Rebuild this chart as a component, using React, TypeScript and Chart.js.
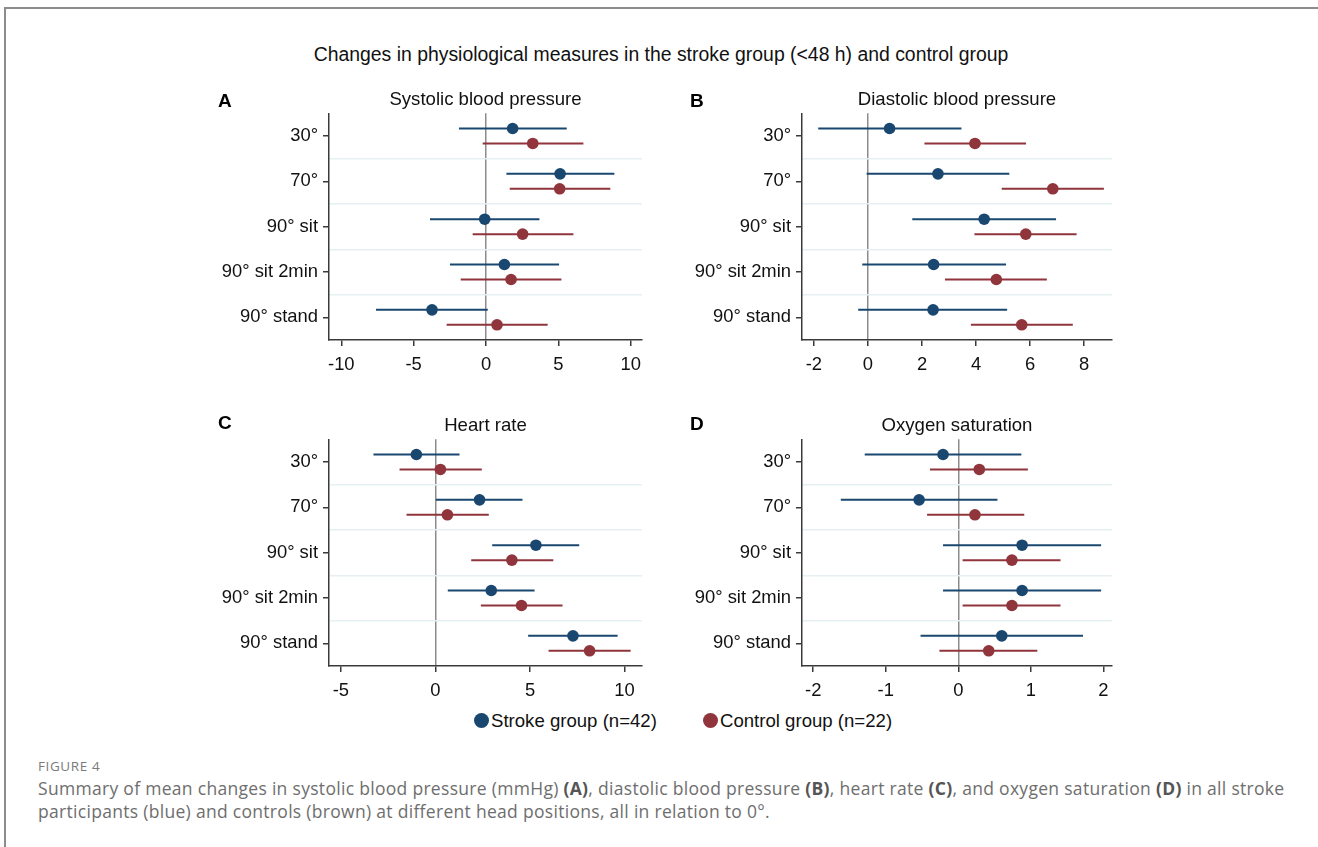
import React, { useEffect, useRef } from "react";
import { Chart, registerables } from "chart.js";

Chart.register(...registerables);

// ---------- data ----------
const categories = ["30°", "70°", "90° sit", "90° sit 2min", "90° stand"];

// Systolic blood pressure
const sbpStrokeMean = [1.84, 5.12, -0.09, 1.27, -3.73];
const sbpStrokeLo = [-1.87, 1.41, -3.87, -2.49, -7.6];
const sbpStrokeHi = [5.58, 8.87, 3.69, 5.05, 0.12];
const sbpControlMean = [3.23, 5.09, 2.53, 1.73, 0.76];
const sbpControlLo = [-0.23, 1.64, -0.92, -1.75, -2.72];
const sbpControlHi = [6.73, 8.59, 6.04, 5.21, 4.26];
const sbpTicks = [-10, -5, 0, 5, 10];

// Diastolic blood pressure
const dbpStrokeMean = [0.8, 2.59, 4.3, 2.43, 2.41];
const dbpStrokeLo = [-1.84, -0.05, 1.64, -0.21, -0.36];
const dbpStrokeHi = [3.46, 5.23, 6.96, 5.11, 5.15];
const dbpControlMean = [3.96, 6.84, 5.84, 4.75, 5.69];
const dbpControlLo = [2.09, 4.95, 3.94, 2.85, 3.81];
const dbpControlHi = [5.85, 8.73, 7.72, 6.62, 7.58];
const dbpTicks = [-2, 0, 2, 4, 6, 8];

// Heart rate
const hrStrokeMean = [-1.01, 2.33, 5.31, 2.95, 7.27];
const hrStrokeLo = [-3.28, 0.02, 3.0, 0.65, 4.9];
const hrStrokeHi = [1.27, 4.6, 7.6, 5.24, 9.63];
const hrControlMean = [0.26, 0.63, 4.04, 4.55, 8.15];
const hrControlLo = [-1.9, -1.53, 1.89, 2.4, 5.98];
const hrControlHi = [2.45, 2.82, 6.23, 6.72, 10.32];
const hrTicks = [-5, 0, 5, 10];

// Oxygen saturation
const spo2StrokeMean = [-0.21, -0.54, 0.88, 0.88, 0.6];
const spo2StrokeLo = [-1.29, -1.62, -0.21, -0.21, -0.52];
const spo2StrokeHi = [0.87, 0.54, 1.97, 1.97, 1.72];
const spo2ControlMean = [0.29, 0.23, 0.74, 0.74, 0.42];
const spo2ControlLo = [-0.39, -0.43, 0.06, 0.06, -0.26];
const spo2ControlHi = [0.96, 0.91, 1.41, 1.41, 1.09];
const spo2Ticks = [-2, -1, 0, 1, 2];

const rowTicks = [1, 1.5, 2, 2.5, 3, 3.5, 4, 4.5, 5];

// ---------- styles ----------
const FONT = '"Liberation Sans", Arial, Helvetica, sans-serif';
const CAPTION_FONT = '"Open Sans", "Noto Sans", sans-serif';
const BLUE = "#1a476f";
const RED = "#90353b";
const AXIS = "#3a3a3a";
const ZERO = "#8c8c8c";
const SEP = "#e6eff1";
const CLEAR = "rgba(0,0,0,0)";
const OFFSET = 0.165;

type Series = { mean: number[]; lo: number[]; hi: number[] };

type PanelProps = {
  title: string;
  ticks: number[];
  xMin: number;
  xMax: number;
  stroke: Series;
  control: Series;
  left: number;
  top: number;
  width: number;
};

const Y_WIDTH = 129;
const PAD_RIGHT = 18;
const CANVAS_H = 300;

function ciDatasets(s: Series, color: string, shift: number) {
  return s.mean.map((_, i) => ({
    type: "scatter" as const,
    label: "ci",
    data: [
      { x: s.lo[i], y: i + 1 + shift },
      { x: s.hi[i], y: i + 1 + shift },
    ],
    showLine: true,
    borderColor: color,
    borderWidth: 2,
    pointRadius: 0,
    pointHoverRadius: 0,
    fill: false,
  }));
}

function Panel(p: PanelProps) {
  const ref = useRef<HTMLCanvasElement | null>(null);
  useEffect(() => {
    if (!ref.current) return;
    const chart = new Chart(ref.current, {
      type: "scatter",
      data: {
        datasets: [
          {
            label: "Stroke group (n=42)",
            data: p.stroke.mean.map((m, i) => ({ x: m, y: i + 1 - OFFSET })),
            pointRadius: 5.8,
            pointBackgroundColor: BLUE,
            pointBorderWidth: 0,
            showLine: false,
          },
          {
            label: "Control group (n=22)",
            data: p.control.mean.map((m, i) => ({ x: m, y: i + 1 + OFFSET })),
            pointRadius: 5.8,
            pointBackgroundColor: RED,
            pointBorderWidth: 0,
            showLine: false,
          },
          ...ciDatasets(p.stroke, BLUE, -OFFSET),
          ...ciDatasets(p.control, RED, OFFSET),
        ] as any,
      },
      options: {
        animation: false,
        responsive: false,
        devicePixelRatio: 1,
        events: [],
        layout: { padding: { left: 0, right: PAD_RIGHT, top: 0, bottom: 0 } },
        plugins: {
          legend: { display: false },
          tooltip: { enabled: false },
          title: {
            display: true,
            text: p.title,
            fullSize: false,
            color: "#111",
            font: { family: FONT, size: 18.6, weight: "normal" as any },
            padding: { top: 9, bottom: 2 },
          },
        },
        scales: {
          x: {
            type: "linear",
            min: p.xMin,
            max: p.xMax,
            afterBuildTicks: (s: any) => {
              s.ticks = p.ticks.map((v) => ({ value: v }));
            },
            afterFit: (s: any) => {
              s.height = 40;
            },
            border: { display: true, color: AXIS, width: 1.5 },
            grid: {
              display: true,
              drawOnChartArea: true,
              drawTicks: true,
              tickLength: 6,
              color: (ctx: any) =>
                ctx.tick && ctx.tick.value === 0 ? ZERO : CLEAR,
              lineWidth: 1.5,
              tickColor: AXIS,
              tickWidth: 1.5,
            },
            ticks: {
              autoSkip: false,
              maxRotation: 0,
              padding: 8,
              color: "#111",
              font: { family: FONT, size: 18.4 },
              callback: (v: any) => String(v),
            },
          },
          y: {
            type: "linear",
            min: 0.5,
            max: 5.5,
            reverse: true,
            afterBuildTicks: (s: any) => {
              s.ticks = rowTicks.map((v) => ({ value: v }));
            },
            afterFit: (s: any) => {
              s.width = Y_WIDTH;
            },
            border: { display: true, color: AXIS, width: 1.5 },
            grid: {
              display: true,
              drawOnChartArea: true,
              drawTicks: true,
              tickLength: 6,
              color: (ctx: any) =>
                ctx.tick && !Number.isInteger(ctx.tick.value) ? SEP : CLEAR,
              lineWidth: 1.5,
              tickColor: (ctx: any) =>
                ctx.tick && Number.isInteger(ctx.tick.value) ? AXIS : CLEAR,
              tickWidth: 1.5,
            },
            ticks: {
              autoSkip: false,
              padding: 5,
              color: "#111",
              font: { family: FONT, size: 18.4 },
              callback: (v: any) =>
                Number.isInteger(v) ? categories[v - 1] : "",
            },
          },
        },
      } as any,
    });
    return () => chart.destroy();
  }, []);
  return (
    <canvas
      ref={ref}
      width={p.width}
      height={CANVAS_H}
      style={{
        position: "absolute",
        left: p.left,
        top: p.top,
        width: p.width,
        height: CANVAS_H,
      }}
    />
  );
}

const letterStyle = (left: number, top: number): React.CSSProperties => ({
  position: "absolute",
  left,
  top,
  fontFamily: FONT,
  fontWeight: "bold",
  fontSize: 19,
  lineHeight: "19px",
  color: "#000",
});

const legendText: React.CSSProperties = {
  position: "absolute",
  top: 710.5,
  fontFamily: FONT,
  fontSize: 18.6,
  lineHeight: "19px",
  color: "#111",
  whiteSpace: "nowrap",
};

export default function App() {
  return (
    <div
      style={{
        position: "absolute",
        left: 0,
        top: 0,
        width: 1318,
        height: 847,
        overflow: "hidden",
        background: "#fff",
      }}
    >
      {/* frame */}
      <div
        style={{
          position: "absolute",
          left: 4,
          top: 7,
          width: 1400,
          height: 900,
          borderTop: "2px solid #8c8c8c",
          borderLeft: "2px solid #8c8c8c",
        }}
      />
      {/* main title */}
      <div
        style={{
          position: "absolute",
          left: 661,
          top: 44,
          transform: "translateX(-50%)",
          whiteSpace: "nowrap",
          fontFamily: FONT,
          fontSize: 19.4,
          lineHeight: "20px",
          color: "#111",
        }}
      >
        Changes in physiological measures in the stroke group (&lt;48 h) and
        control group
      </div>

      <Panel
        title="Systolic blood pressure"
        ticks={sbpTicks}
        xMin={-10.85}
        xMax={10.78}
        stroke={{ mean: sbpStrokeMean, lo: sbpStrokeLo, hi: sbpStrokeHi }}
        control={{ mean: sbpControlMean, lo: sbpControlLo, hi: sbpControlHi }}
        left={200}
        top={80}
        width={460}
      />
      <Panel
        title="Diastolic blood pressure"
        ticks={dbpTicks}
        xMin={-2.44}
        xMax={9.03}
        stroke={{ mean: dbpStrokeMean, lo: dbpStrokeLo, hi: dbpStrokeHi }}
        control={{ mean: dbpControlMean, lo: dbpControlLo, hi: dbpControlHi }}
        left={673}
        top={80}
        width={457}
      />
      <Panel
        title="Heart rate"
        ticks={hrTicks}
        xMin={-5.63}
        xMax={10.92}
        stroke={{ mean: hrStrokeMean, lo: hrStrokeLo, hi: hrStrokeHi }}
        control={{ mean: hrControlMean, lo: hrControlLo, hi: hrControlHi }}
        left={200}
        top={406}
        width={460}
      />
      <Panel
        title="Oxygen saturation"
        ticks={spo2Ticks}
        xMin={-2.155}
        xMax={2.12}
        stroke={{ mean: spo2StrokeMean, lo: spo2StrokeLo, hi: spo2StrokeHi }}
        control={{
          mean: spo2ControlMean,
          lo: spo2ControlLo,
          hi: spo2ControlHi,
        }}
        left={673}
        top={406}
        width={457}
      />

      <div style={letterStyle(218, 91)}>A</div>
      <div style={letterStyle(690, 91)}>B</div>
      <div style={letterStyle(218, 413)}>C</div>
      <div style={letterStyle(690, 414)}>D</div>

      {/* legend */}
      <div
        style={{
          position: "absolute",
          left: 473.5,
          top: 712.5,
          width: 15,
          height: 15,
          borderRadius: "50%",
          background: BLUE,
        }}
      />
      <div style={{ ...legendText, left: 491 }}>Stroke group (n=42)</div>
      <div
        style={{
          position: "absolute",
          left: 703,
          top: 712.5,
          width: 15,
          height: 15,
          borderRadius: "50%",
          background: RED,
        }}
      />
      <div style={{ ...legendText, left: 720 }}>Control group (n=22)</div>

      {/* caption */}
      <div
        style={{
          position: "absolute",
          left: 38,
          top: 757,
          fontFamily: CAPTION_FONT,
          fontSize: 13.5,
          lineHeight: "18px",
          letterSpacing: "0.6px",
          color: "#7a7a7a",
          whiteSpace: "nowrap",
        }}
      >
        FIGURE 4
      </div>
      <div
        style={{
          position: "absolute",
          left: 38,
          top: 777,
          fontFamily: CAPTION_FONT,
          fontSize: 17.5,
          letterSpacing: "0.3px",
          lineHeight: "23px",
          color: "#6e6e6e",
          whiteSpace: "nowrap",
        }}
      >
        Summary of mean changes in systolic blood pressure (mmHg){" "}
        <b style={{ color: "#555" }}>(A)</b>, diastolic blood pressure{" "}
        <b style={{ color: "#555" }}>(B)</b>, heart rate{" "}
        <b style={{ color: "#555" }}>(C)</b>, and oxygen saturation{" "}
        <b style={{ color: "#555" }}>(D)</b> in all stroke
        <br />
        participants (blue) and controls (brown) at different head positions,
        all in relation to 0°.
      </div>
    </div>
  );
}
